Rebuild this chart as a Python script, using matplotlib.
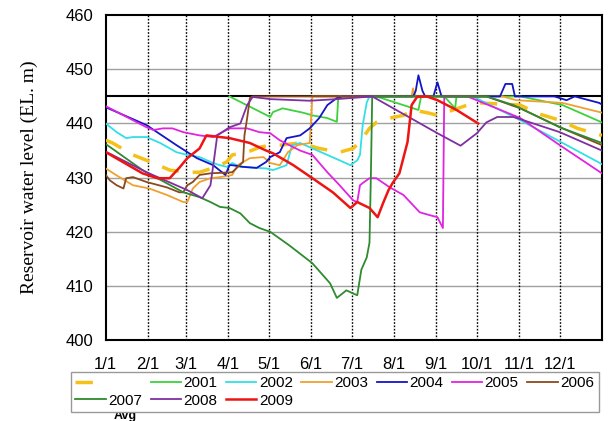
import matplotlib
matplotlib.use("Agg")
import matplotlib.pyplot as plt

plt.rcParams["font.family"] = ["Liberation Sans", "DejaVu Sans"]

# day of year / reservoir level (EL. m)
avg_day = [0, 5, 20, 35, 47, 60, 69, 79, 89, 93, 104, 113, 121, 128, 143, 157, 172, 182, 187, 194,
           199, 209, 219, 226, 238, 244, 266, 275, 305, 317, 334, 347, 365]
avg_lvl = [436.9, 436.4, 434.2, 432.7, 431.4, 431.0, 431.0, 431.8, 432.9, 434.2, 434.7, 435.6, 436.0,
           436.0, 436.4, 435.4, 434.7, 435.4, 436.6, 439.1, 440.2, 441.0, 441.5, 442.5, 441.9, 441.5,
           443.4, 443.8, 443.4, 441.9, 440.6, 439.1, 437.8]

y2001_day = [91, 121, 123, 130, 145, 152, 163, 170, 171, 172, 199, 230, 232, 249, 257, 258, 305, 336, 365]
y2001_lvl = [445.0, 441.2, 442.1, 442.8, 442.0, 441.5, 441.0, 440.3, 444.7, 445.0, 445.0, 442.5, 445.0,
             445.0, 442.8, 445.0, 445.0, 443.4, 440.2]

y2002_day = [0, 8, 15, 20, 30, 40, 52, 60, 69, 79, 84, 89, 93, 99, 118, 123, 133, 137, 143, 152, 163,
             180, 185, 187, 189, 192, 194, 270, 305, 365]
y2002_lvl = [440.0, 438.4, 437.3, 437.5, 437.5, 436.4, 434.7, 434.2, 433.8, 432.7, 432.3, 432.0, 432.7,
             432.0, 431.7, 431.4, 432.3, 436.0, 436.4, 435.4, 434.2, 432.3, 433.2, 434.2, 439.7, 443.9,
             445.0, 445.0, 440.6, 432.5]

y2003_day = [0, 10, 20, 32, 45, 57, 60, 64, 69, 77, 84, 93, 97, 106, 116, 121, 128, 134, 141, 150, 152,
             225, 226, 228, 292, 302, 336, 365]
y2003_lvl = [431.7, 430.1, 428.6, 428.0, 426.8, 425.5, 425.5, 428.0, 429.2, 429.9, 430.1, 430.5, 432.3,
             433.6, 433.8, 432.7, 432.3, 434.7, 436.0, 436.4, 445.0, 445.0, 446.5, 445.0, 445.0, 444.3,
             443.8, 442.0]

y2004_day = [0, 30, 52, 67, 79, 88, 91, 93, 101, 111, 118, 121, 128, 133, 143, 150, 157, 163, 170, 174,
             226, 228, 230, 233, 235, 241, 244, 247, 290, 294, 299, 301, 330, 339, 345, 363, 365]
y2004_lvl = [443.0, 439.7, 436.0, 433.6, 432.3, 430.5, 432.3, 432.3, 432.0, 431.8, 432.9, 433.8, 434.7,
             437.3, 437.8, 439.1, 441.0, 443.4, 444.7, 445.0, 445.0, 446.0, 448.9, 446.0, 445.0, 445.0,
             447.6, 445.0, 445.0, 447.3, 447.3, 445.0, 445.0, 444.3, 445.0, 443.8, 443.5]

y2005_day = [0, 30, 35, 42, 49, 57, 69, 79, 91, 104, 113, 121, 128, 143, 152, 163, 172, 182, 185, 187,
             189, 194, 199, 209, 219, 231, 238, 244, 248, 249, 266, 305, 334, 365]
y2005_lvl = [443.2, 439.3, 438.8, 439.1, 439.1, 438.4, 437.8, 437.5, 439.1, 439.1, 438.4, 438.2, 436.9,
             435.0, 434.2, 431.0, 428.6, 425.8, 425.5, 428.6, 429.0, 429.9, 429.9, 428.2, 426.8, 423.6,
             423.1, 422.7, 420.7, 445.0, 445.0, 441.0, 436.0, 430.8]

y2006_day = [0, 3, 8, 13, 15, 20, 30, 45, 54, 57, 60, 64, 69, 77, 93, 101, 102, 104, 106, 108, 280,
             305, 336, 365]
y2006_lvl = [430.5, 429.5, 428.6, 428.0, 429.9, 430.1, 429.2, 428.2, 427.3, 427.3, 428.6, 429.2, 430.5,
             430.8, 431.0, 432.9, 437.8, 441.0, 444.7, 445.0, 445.0, 442.8, 439.1, 436.0]

y2007_day = [0, 27, 57, 69, 77, 84, 91, 99, 106, 113, 121, 135, 152, 165, 170, 177, 183, 185, 188, 192,
             194, 195, 196, 280, 300, 334, 365]
y2007_lvl = [436.2, 431.4, 427.3, 426.4, 425.5, 424.6, 424.4, 423.4, 421.6, 420.7, 420.0, 417.5, 414.2,
             410.5, 407.8, 409.2, 408.5, 408.3, 413.0, 415.3, 418.0, 430.0, 445.0, 445.0, 443.4, 439.3,
             436.4]

y2008_day = [0, 30, 60, 71, 77, 80, 82, 91, 99, 104, 108, 121, 150, 170, 196, 244, 261, 273, 280, 288,
             300, 334, 365]
y2008_lvl = [434.8, 431.0, 427.7, 426.2, 428.6, 434.0, 437.8, 439.3, 440.0, 443.4, 444.9, 444.5, 444.2,
             444.5, 445.0, 438.2, 435.9, 438.2, 440.2, 441.2, 441.2, 438.4, 435.0]

y2009_day = [0, 27, 38, 47, 54, 60, 69, 74, 84, 91, 106, 118, 123, 138, 152, 167, 180, 185, 194, 200,
             204, 208, 211, 216, 222, 225, 229, 236, 244, 258, 274]
y2009_lvl = [434.7, 430.8, 429.9, 429.9, 431.8, 433.6, 435.4, 437.8, 437.5, 437.3, 436.4, 435.0, 434.5,
             432.3, 429.9, 427.3, 424.4, 425.5, 424.4, 422.7, 425.3, 427.7, 429.0, 430.8, 436.6, 443.4,
             444.9, 445.0, 444.3, 442.5, 440.0]

month_days = [0, 31, 59, 90, 120, 151, 181, 212, 243, 273, 304, 334]
month_labels = ["1/1", "2/1", "3/1", "4/1", "5/1", "6/1", "7/1", "8/1", "9/1", "10/1", "11/1", "12/1"]
full_level = 445

series = [
    ("2001", y2001_day, y2001_lvl, "#3cd23c", 1.3),
    ("2002", y2002_day, y2002_lvl, "#33dfe6", 1.3),
    ("2003", y2003_day, y2003_lvl, "#f0a030", 1.3),
    ("2004", y2004_day, y2004_lvl, "#1414c8", 1.3),
    ("2005", y2005_day, y2005_lvl, "#e024e0", 1.3),
    ("2006", y2006_day, y2006_lvl, "#8b4a1e", 1.3),
    ("2007", y2007_day, y2007_lvl, "#2e8b2e", 1.3),
    ("2008", y2008_day, y2008_lvl, "#7e30a0", 1.3),
    ("2009", y2009_day, y2009_lvl, "#ee1414", 1.8),
]

fig = plt.figure(figsize=(6.08, 4.21), dpi=100)
ax = fig.add_axes([0.174, 0.192, 0.816, 0.772])

ax.set_xlim(0, 365)
ax.set_ylim(400, 460)
ax.set_yticks(range(400, 461, 10))
ax.set_xticks(month_days)
ax.set_xticklabels(month_labels)
for y in range(410, 460, 10):
    ax.axhline(y, color="#a0a0a0", linewidth=1.0, zorder=1)
for d in month_days[1:]:
    ax.axvline(d, color="black", linewidth=1.0, linestyle=(0, (1.2, 1.2)), zorder=1)
ax.axhline(full_level, color="black", linewidth=1.5, zorder=2)

handles = {}
h, = ax.plot(avg_day, avg_lvl, color="#f5c018", linewidth=2.5, linestyle=(0, (5, 4)), zorder=3)
handles["Avg"] = h
for name, d, v, c, lw in series:
    h, = ax.plot(d, v, color=c, linewidth=lw, zorder=4)
    handles[name] = h

for s in ax.spines.values():
    s.set_linewidth(1.5)
ax.tick_params(length=0, labelsize=12)
ax.tick_params(axis="x", pad=12)
ax.tick_params(axis="y", pad=9)

ax.set_ylabel("Reservoir water level (EL. m)", family=["Liberation Serif"], fontsize=14, labelpad=20)

order = ["Avg", "2007", "2001", "2008", "2002", "2009", "2003", "2004", "2005", "2006"]
labels = [" " if k == "Avg" else k for k in order]
fig.legend([handles[k] for k in order], labels, loc="lower left",
           bbox_to_anchor=(0.104, 0.003, 0.893, 0.09), mode="expand", ncol=7,
           fontsize=11, handlelength=2.0, handletextpad=0.15, labelspacing=0.2,
           borderpad=0.3, columnspacing=0.6, fancybox=False, edgecolor="#999999",
           framealpha=1)
fig.text(125 / 608, 1 - 416 / 421, "Avg", ha="center", va="center", fontsize=9, fontweight="bold")

fig.savefig("out.png", dpi=100)
